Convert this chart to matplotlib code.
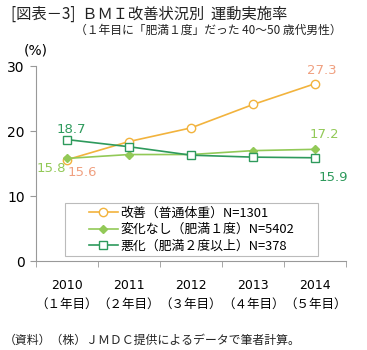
"""BMI改善状況別 運動実施率 (line chart)."""

import matplotlib.pyplot as plt
import numpy as np
from matplotlib.patches import Rectangle

plt.rcParams["font.family"] = ["DejaVu Sans", "Noto Sans CJK JP"]

years = ["2010", "2011", "2012", "2013", "2014"]
year_labels = ["（１年目）", "（２年目）", "（３年目）", "（４年目）", "（５年目）"]
improved = [15.6, 18.4, 20.5, 24.1, 27.3]
unchanged = [15.8, 16.4, 16.4, 17.0, 17.2]
worsened = [18.7, 17.6, 16.3, 16.0, 15.9]
names = [
    "改善（普通体重）N=1301",
    "変化なし（肥満１度）N=5402",
    "悪化（肥満２度以上）N=378",
]

c_imp, c_imp_lab = "#F2B33D", "#F0A080"
c_unc = "#92C957"
c_wor = "#2E9A5C"

fig = plt.figure(figsize=(3.67, 3.5), dpi=100)
ax = fig.add_axes([0.098, 0.254, 0.845, 0.557])
x = np.arange(len(years))

ax.plot(x, improved, color=c_imp, lw=1.2, marker="o", ms=6,
        mfc="white", mec=c_imp, mew=1.0, label=names[0], zorder=3)
ax.plot(x, unchanged, color=c_unc, lw=1.2, marker="D", ms=4.5,
        mfc=c_unc, mec=c_unc, label=names[1], zorder=3)
ax.plot(x, worsened, color=c_wor, lw=1.2, marker="s", ms=6,
        mfc="white", mec=c_wor, mew=1.0, label=names[2], zorder=3)

lab_kw = dict(fontsize=9.5, ha="center", va="center")
ax.text(x[-1] + 0.11, improved[-1] + 2.1, f"{improved[-1]:.1f}", color=c_imp_lab, **lab_kw)
ax.text(x[-1] + 0.155, unchanged[-1] + 2.3, f"{unchanged[-1]:.1f}", color=c_unc, **lab_kw)
ax.text(x[-1] + 0.29, worsened[-1] - 3.0, f"{worsened[-1]:.1f}", color=c_wor, **lab_kw)
ax.text(x[0] + 0.065, worsened[0] + 1.5, f"{worsened[0]:.1f}", color=c_wor, **lab_kw)
ax.text(x[0] - 0.26, unchanged[0] - 1.5, f"{unchanged[0]:.1f}", color=c_unc, **lab_kw)
ax.text(x[0] + 0.25, improved[0] - 1.9, f"{improved[0]:.1f}", color=c_imp_lab, **lab_kw)

ax.set_xlim(-0.5, 4.5)
ax.set_ylim(0, 30)
ax.set_yticks([0, 10, 20, 30])
ax.set_xticks(x)
ax.set_xticklabels([f"{y}\n{l}" for y, l in zip(years, year_labels)],
                   fontsize=9, linespacing=1.6)
ax.set_xticks(np.arange(-0.5, 5, 1), minor=True)
ax.tick_params(axis="x", which="major", length=0, pad=13)
ax.tick_params(axis="x", which="minor", length=4, color="#999999")
ax.tick_params(axis="y", length=4, color="#999999", labelsize=10, pad=4)
for side in ("top", "right"):
    ax.spines[side].set_visible(False)
for side in ("left", "bottom"):
    ax.spines[side].set_color("#999999")

# legend box drawn separately so the entries can sit centred in a wide frame
ax.add_patch(Rectangle((0.094, 0.026), 0.816, 0.27, transform=ax.transAxes,
                       facecolor="white", edgecolor="#bbbbbb", lw=0.8, zorder=4))
leg = ax.legend(loc="center", bbox_to_anchor=(0.502, 0.161), frameon=False,
                handlelength=2.2, handletextpad=0.2, borderpad=0.2,
                labelspacing=0.25, prop={"family": ["Noto Sans CJK JP"], "size": 9.3})
leg.set_zorder(5)

fig.text(0.03, 0.958, "[図表－3]  ＢＭＩ改善状況別  運動実施率", fontsize=11,
         family=["Noto Sans CJK JP"], va="center", color="#222222")
fig.text(0.205, 0.913, "（１年目に「肥満１度」だった 40～50 歳代男性）", fontsize=8.5,
         family=["Noto Sans CJK JP"], va="center", color="#222222")
fig.text(0.065, 0.857, "(%)", fontsize=10, va="center")
fig.text(0.01, 0.028, "（資料）（株）ＪＭＤＣ提供によるデータで筆者計算。", fontsize=8.6,
         family=["Noto Sans CJK JP"], va="center", color="#222222")

fig.savefig("out.png", dpi=100)
